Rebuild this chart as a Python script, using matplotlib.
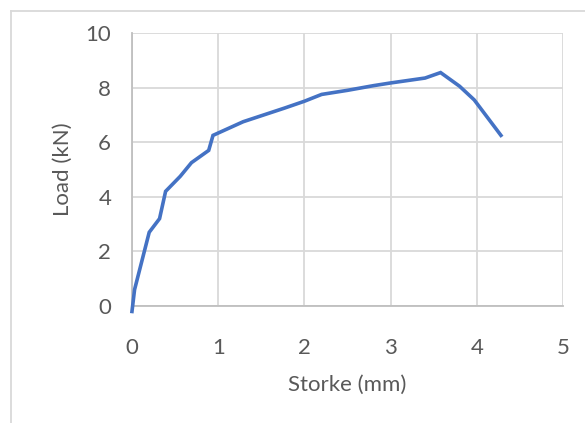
import matplotlib.pyplot as plt
from matplotlib.lines import Line2D

# Storke vs load
storke_mm = [0.0, 0.03, 0.2, 0.32, 0.39, 0.56, 0.69, 0.89, 0.94, 1.29, 1.77,
             2.0, 2.2, 2.5, 2.8, 3.0, 3.4, 3.58, 3.8, 3.97, 4.28]
load_kn = [-0.2, 0.6, 2.7, 3.2, 4.2, 4.75, 5.25, 5.7, 6.25, 6.75, 7.25,
           7.5, 7.75, 7.9, 8.07, 8.17, 8.35, 8.55, 8.05, 7.55, 6.25]

x_ticks = [0, 1, 2, 3, 4, 5]
y_ticks = [0, 2, 4, 6, 8, 10]

TEXT = "#595959"
GRID = "#d9d9d9"
LINE = "#4472c4"

plt.rcParams["font.family"] = ["Lato", "DejaVu Sans"]

fig = plt.figure(figsize=(5.85, 4.23), dpi=100)
ax = fig.add_axes([0.2256, 0.2766, 0.7368, 0.6454])

ax.plot(storke_mm, load_kn, color=LINE, linewidth=2.6, solid_joinstyle="miter",
        clip_on=False, zorder=3)

ax.set_xlim(0, 5)
ax.set_ylim(0, 10)
ax.set_xticks(x_ticks)
ax.set_yticks(y_ticks)
ax.grid(True, color=GRID, linewidth=1.3)
ax.set_axisbelow(True)
for side in ["top", "right"]:
    ax.spines[side].set_visible(False)
for side in ["left", "bottom"]:
    ax.spines[side].set_color("#bfbfbf")
    ax.spines[side].set_linewidth(1.3)
ax.tick_params(length=0, labelsize=16, labelcolor=TEXT)
ax.tick_params(axis="x", pad=23)
ax.tick_params(axis="y", pad=15)

ax.set_xlabel("Storke (mm)", fontsize=16, color=TEXT, labelpad=12)
ax.set_ylabel("Load (kN)", fontsize=16, color=TEXT, labelpad=9)

# chart frame (only top and left edges visible in the crop)
fig.add_artist(Line2D([11 / 585, 1], [1 - 11.5 / 423] * 2, color="#d9d9d9", lw=1.3))
fig.add_artist(Line2D([11 / 585] * 2, [0, 1 - 11.5 / 423], color="#d9d9d9", lw=1.3))

plt.savefig("out.png", dpi=100)
